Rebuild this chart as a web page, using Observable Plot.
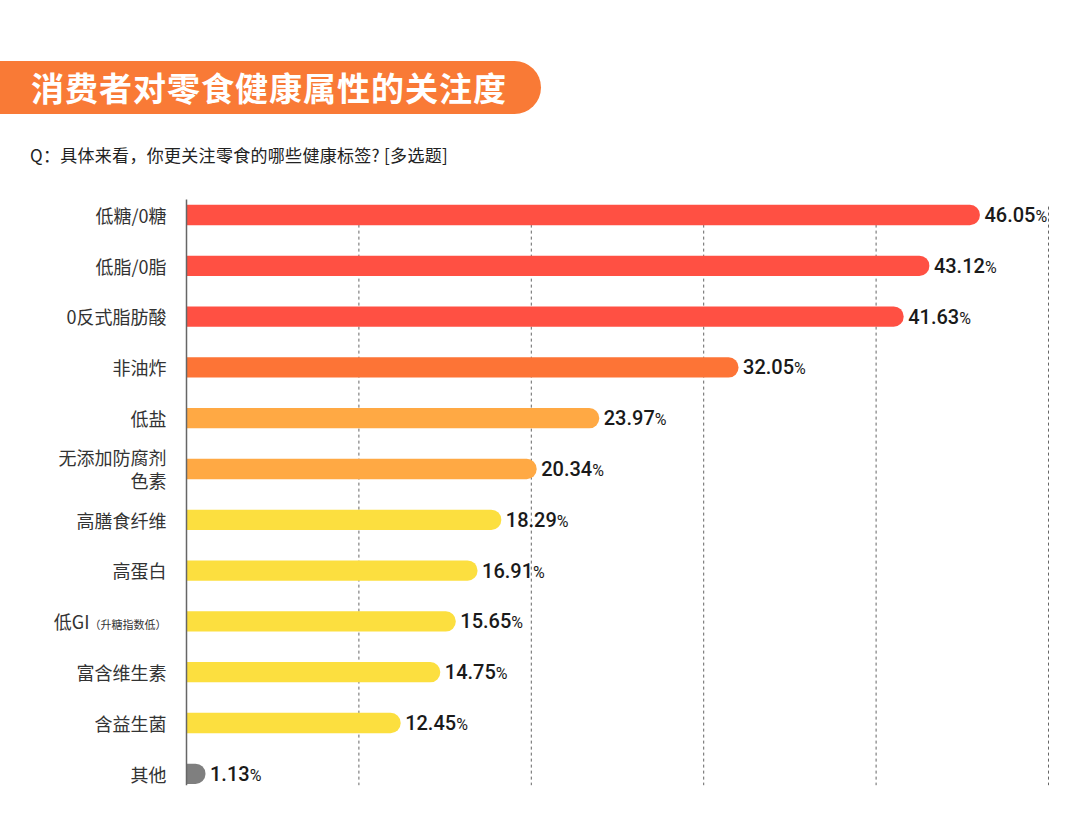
<!DOCTYPE html>
<html><head><meta charset="utf-8">
<script src="https://cdn.jsdelivr.net/npm/d3@7"></script>
<script src="https://cdn.jsdelivr.net/npm/@observablehq/plot@0.6"></script>
<style>
html,body{margin:0;padding:0;background:#fff;}
body{width:1080px;height:823px;position:relative;overflow:hidden;font-family:"Noto Sans CJK SC","Noto Sans",sans-serif;}
#banner{position:absolute;left:0;top:61px;width:541px;height:53px;background:#F97A36;border-radius:0 27px 27px 0;}
#title{position:absolute;left:31px;top:61px;height:53px;line-height:53px;color:#fff;font-size:33px;font-weight:700;letter-spacing:1px;}
#sub{position:absolute;left:30px;top:142px;font-size:17px;color:#222;line-height:26px;letter-spacing:0.3px;}
#chart{position:absolute;left:0;top:185px;}
</style></head>
<body>
<div id="banner"></div>
<div id="title">消费者对零食健康属性的关注度</div>
<div id="sub">Q：具体来看，你更关注零食的哪些健康标签? [多选题]</div>
<div id="chart"></div>
<script>
const categories = ["低糖/0糖","低脂/0脂","0反式脂肪酸","非油炸","低盐","无添加防腐剂\n色素","高膳食纤维","高蛋白","低GI（升糖指数低）","富含维生素","含益生菌","其他"];
const values = [46.05,43.12,41.63,32.05,23.97,20.34,18.29,16.91,15.65,14.75,12.45,1.13];
const colors = ["#FF5043","#FF5043","#FF5043","#FD7436","#FFA944","#FFA944","#FCDF3F","#FCDF3F","#FCDF3F","#FCDF3F","#FCDF3F","#7F7F7F"];
const gridTicks = [10,20,30,40,50];

const data = categories.map((c,i)=>({cat:c, v:values[i], color:colors[i]}));

const chart = Plot.plot({
  width:1080, height:638,
  marginLeft:186, marginRight:32, marginTop:4.6, marginBottom:23.8,
  x:{domain:[0,50], axis:null},
  y:{domain:categories, paddingInner:0.6, paddingOuter:0.3, round:false, label:null},
  style:{fontFamily:"'Noto Sans CJK SC','Noto Sans',sans-serif"},
  marks:[
    Plot.ruleX(gridTicks,{stroke:"#666",strokeWidth:1,strokeDasharray:"3,3",insetTop:17,insetBottom:14}),
    Plot.barX(data,{y:"cat",x1:0,x2:"v",fill:"color",rx2:10}),
    Plot.ruleX([0],{stroke:"#666",strokeWidth:1.5,insetTop:10,insetBottom:14}),
    Plot.text(data,{y:"cat",x:"v",text:d=>d.v.toFixed(2)+"%",dx:4,textAnchor:"start",fill:"#1a1a1a",fontSize:20,fontWeight:500,fontFamily:"Roboto,'Noto Sans',sans-serif",className:"vlab"}),
    Plot.axisY({tickSize:0,tickPadding:20,fontSize:18,lineHeight:1.25,fill:"#333",className:"ylab"})
  ]
});
document.getElementById("chart").appendChild(chart);

// split "%" into a smaller tspan
chart.querySelectorAll(".vlab text").forEach(t=>{
  const s=t.textContent;
  if(s.endsWith("%")){
    t.textContent=s.slice(0,-1);
    const ts=document.createElementNS("http://www.w3.org/2000/svg","tspan");
    ts.textContent="%";
    ts.setAttribute("font-size","16");
    ts.setAttribute("font-weight","400");
    t.appendChild(ts);
  }
});
// GI label: smaller parenthetical
chart.querySelectorAll(".ylab text").forEach(t=>{
  const s=t.textContent;
  const k=s.indexOf("（");
  if(k>0){
    t.textContent=s.slice(0,k);
    const ts=document.createElementNS("http://www.w3.org/2000/svg","tspan");
    ts.textContent=s.slice(k);
    ts.setAttribute("font-size","11");
    t.appendChild(ts);
  }
});
</script>
</body></html>
